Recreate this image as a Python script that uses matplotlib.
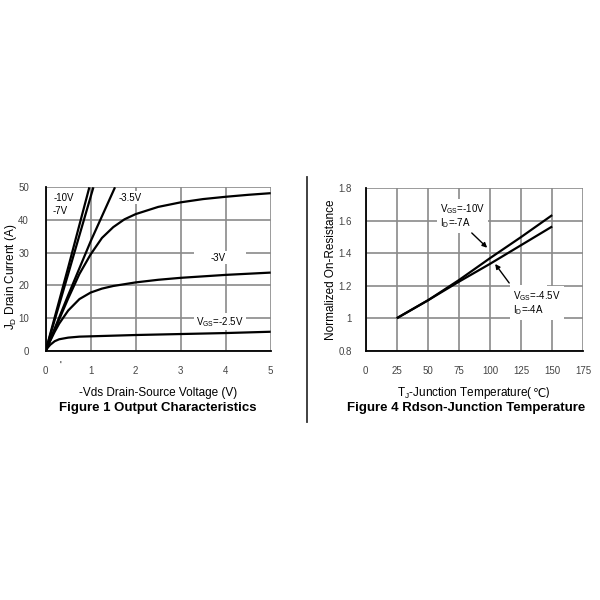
import matplotlib
matplotlib.use("Agg")
import matplotlib.pyplot as plt
from matplotlib.lines import Line2D

plt.rcParams['font.family'] = ['Liberation Sans', 'DejaVu Sans']
plt.rcParams['mathtext.default'] = 'regular'

# ---- Figure 1 data: Output characteristics ----
vds_10 = [0, 0.5, 0.97]
id_10 = [0, 25.5, 50]
vds_7 = [0, 0.5, 1.06]
id_7 = [0, 23.5, 50]
vds_45 = [0, 0.5, 1.0, 1.54]
id_45 = [0, 17, 33.5, 50]
vds_35 = [0, 0.25, 0.5, 0.75, 1.0, 1.25, 1.5, 1.75, 2.0, 2.5, 3.0, 3.5, 4.0, 4.5, 5.0]
id_35 = [0, 8, 16, 23.5, 29.5, 34.5, 37.8, 40.2, 41.8, 44.0, 45.4, 46.4, 47.1, 47.7, 48.2]
vds_3 = [0, 0.1, 0.2, 0.3, 0.5, 0.75, 1.0, 1.25, 1.5, 2.0, 2.5, 3.0, 4.0, 5.0]
id_3 = [0, 3, 5.8, 8.3, 12.3, 15.8, 17.8, 19.0, 19.8, 20.9, 21.7, 22.3, 23.2, 23.9]
vds_25 = [0, 0.05, 0.1, 0.2, 0.3, 0.5, 0.75, 1.0, 1.5, 2.0, 3.0, 4.0, 5.0]
id_25 = [0, 1.0, 1.8, 2.9, 3.5, 4.0, 4.3, 4.4, 4.6, 4.8, 5.1, 5.4, 5.8]

x1_ticks = [0, 1, 2, 3, 4, 5]
y1_ticks = [0, 10, 20, 30, 40, 50]

# ---- Figure 4 data: Rdson vs junction temperature ----
tj = [25, 50, 75, 100, 125, 150]
rds_10v = [1.0, 1.11, 1.235, 1.37, 1.50, 1.635]
rds_45v = [1.0, 1.11, 1.225, 1.335, 1.45, 1.565]

x4_ticks = [0, 25, 50, 75, 100, 125, 150, 175]
y4_ticks = [0.8, 1.0, 1.2, 1.4, 1.6, 1.8]
y4_labels = ['0.8', '1', '1.2', '1.4', '1.6', '1.8']

fig = plt.figure(figsize=(6, 6), dpi=100)

grid_kw = dict(color='#8a8a8a', linewidth=1.2)
tick_fs = 7
lab_fs = 8.5
title_fs = 9.5
ann_fs = 7

def style(ax):
    for s in ['top', 'right']:
        ax.spines[s].set_visible(False)
    for s in ['left', 'bottom']:
        ax.spines[s].set_linewidth(1.3)
        ax.spines[s].set_color('black')
    ax.grid(True, **grid_kw)
    ax.set_axisbelow(True)
    ax.tick_params(length=0, labelsize=tick_fs, colors='#444444')

# ---- Left chart ----
ax1 = fig.add_axes([45.7/600, 1-350.7/600, 225/600, 163.4/600])
style(ax1)
ax1.set_xlim(0, 5)
ax1.set_ylim(0, 50)
ax1.set_xticks(x1_ticks)
ax1.set_yticks(y1_ticks)
ax1.tick_params(axis='x', pad=11)
ax1.tick_params(axis='y', pad=12)
lw = 1.6
for xs, ys in [(vds_10, id_10), (vds_7, id_7), (vds_45, id_45),
               (vds_35, id_35), (vds_3, id_3), (vds_25, id_25)]:
    ax1.plot(xs, ys, color='black', lw=lw, solid_capstyle='butt', clip_on=True)

bb = dict(boxstyle='square,pad=0.15', fc='white', ec='none')
ax1.text(0.17, 46.6, '-10V', fontsize=ann_fs, va='center', ha='left', bbox=bb)
ax1.text(0.15, 42.7, '-7V', fontsize=ann_fs, va='center', ha='left', bbox=bb)
ax1.text(1.61, 46.8, '-3.5V', fontsize=ann_fs, va='center', ha='left', bbox=bb)
ax1.text(3.84, 28.4, '-3V', fontsize=ann_fs, va='center', ha='center',
         bbox=dict(boxstyle='square,pad=0.15', fc='white', ec='none'))
ax1.add_patch(plt.Rectangle((3.3, 26.6), 1.15, 3.6, fc='white', ec='none', zorder=1.5))
ax1.text(3.34, 8.9, r'V$_{GS}$=-2.5V', fontsize=ann_fs, va='center', ha='left',
         bbox=dict(boxstyle='square,pad=0.2', fc='white', ec='none'))
ax1.set_ylabel(r'J$_D$ Drain Current (A)', fontsize=lab_fs)
ax1.yaxis.set_label_coords(-0.118, 0.45)
fig.text(158/600, 1-393/600, '-Vds Drain-Source Voltage (V)', fontsize=lab_fs,
         ha='center', va='center')
fig.text(158/600, 1-408/600, 'Figure 1 Output Characteristics', fontsize=title_fs,
         fontweight='bold', ha='center', va='center')
fig.text(60/600, 1-366/600, "'", fontsize=7, ha='center', va='center')

# ---- Right chart ----
ax4 = fig.add_axes([365.7/600, 1-350.7/600, 217.6/600, 162.4/600])
style(ax4)
ax4.set_xlim(0, 175)
ax4.set_ylim(0.8, 1.8)
ax4.set_xticks(x4_ticks)
ax4.set_yticks(y4_ticks)
ax4.set_yticklabels(y4_labels)
ax4.tick_params(axis='x', pad=11)
ax4.tick_params(axis='y', pad=10)
ax4.plot(tj, rds_10v, color='black', lw=lw, solid_capstyle='butt')
ax4.plot(tj, rds_45v, color='black', lw=lw, solid_capstyle='butt')

ax4.text(59.8, 1.63, 'V$_{GS}$=-10V\nI$_D$=-7A', fontsize=ann_fs, va='center',
         ha='left', linespacing=1.0,
         bbox=dict(boxstyle='square,pad=0.3', fc='white', ec='none'))
ax4.text(118.6, 1.095, 'V$_{GS}$=-4.5V\nI$_D$=-4A', fontsize=ann_fs, va='center',
         ha='left', linespacing=1.0,
         bbox=dict(boxstyle='square,pad=0.3', fc='white', ec='none'))
ax4.add_patch(plt.Rectangle((116, 0.99), 30, 0.215, fc='white', ec='none', zorder=1.5))
ax4.annotate('', xy=(97.7, 1.434), xytext=(85.3, 1.525),
             arrowprops=dict(arrowstyle='-|>', color='black', lw=1.0,
                             mutation_scale=7, shrinkA=0, shrinkB=0))
ax4.annotate('', xy=(104.1, 1.334), xytext=(115.4, 1.217),
             arrowprops=dict(arrowstyle='-|>', color='black', lw=1.0,
                             mutation_scale=7, shrinkA=0, shrinkB=0))
ax4.set_ylabel('Normalized On-Resistance', fontsize=lab_fs)
ax4.yaxis.set_label_coords(-0.132, 0.5)

# x label of right chart in two parts so that the degree sign comes from DejaVu Sans
t1 = fig.text(0, 1-393/600, 'T$_J$-Junction Temperature(', fontsize=lab_fs,
              ha='left', va='center')
t2 = fig.text(0, 1-393/600, '\u2103)', fontsize=lab_fs, ha='left', va='center',
              family='DejaVu Sans')
fig.canvas.draw()
r = fig.canvas.get_renderer()
w1 = t1.get_window_extent(r).width / 600
w2 = t2.get_window_extent(r).width / 600
x0 = 474/600 - (w1 + w2) / 2
t1.set_x(x0)
t2.set_x(x0 + w1)

fig.text(466/600, 1-408/600, 'Figure 4 Rdson-Junction Temperature', fontsize=title_fs,
         fontweight='bold', ha='center', va='center')

# separator line
fig.add_artist(Line2D([307.3/600, 307.3/600], [1-176.7/600, 1-421.7/600],
                      color='#333333', lw=1.3, transform=fig.transFigure))

fig.savefig('out.png', dpi=100, facecolor='white')
